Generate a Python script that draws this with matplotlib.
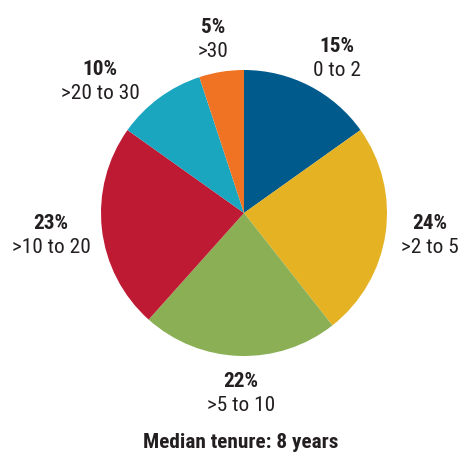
import matplotlib
matplotlib.use("Agg")
import matplotlib.pyplot as plt

# Tenure distribution
shares = [15, 24, 22, 23, 10, 5]
categories = ["0 to 2", ">2 to 5", ">5 to 10", ">10 to 20", ">20 to 30", ">30"]
colors = ["#005a8b", "#e5b224", "#8aaf54", "#be1a34", "#1aa6bf", "#f07323"]
title = "Median tenure: 8 years"

plt.rcParams["font.family"] = ["Roboto Condensed", "Liberation Sans Narrow", "Roboto"]
text_color = "#231f20"
fs = 15.3

W, H = 460, 454
fig = plt.figure(figsize=(W / 100, H / 100), dpi=100)

# Pie placed in pixel space: center (244, 213), radius 143
cx, cy, r = 244, 213, 143
ax = fig.add_axes([(cx - r) / W, (H - cy - r) / H, 2 * r / W, 2 * r / H])
ax.pie(shares, colors=colors, startangle=90, counterclock=False,
       radius=1.0, wedgeprops=dict(linewidth=0))
ax.set_xlim(-1, 1)
ax.set_ylim(-1, 1)
ax.set_aspect("equal")
ax.axis("off")

# Label anchors in figure pixels: (x center, baseline of first line)
label_pos = [(337, 52), (430, 229), (241, 387), (51, 229), (100, 75), (213, 33)]
line_gap = 24

def fig_xy(px, py):
    return px / W, 1 - py / H

for share, cat, (px, py) in zip(shares, categories, label_pos):
    x, y = fig_xy(px, py)
    fig.text(x, y, f"{share}%", ha="center", va="baseline", fontsize=fs,
             fontweight="bold", color=text_color)
    x2, y2 = fig_xy(px, py + line_gap)
    fig.text(x2, y2, cat, ha="center", va="baseline", fontsize=fs,
             color=text_color)

tx, ty = fig_xy(241, 448)
fig.text(tx, ty, title, ha="center", va="baseline", fontsize=fs,
         fontweight="bold", color=text_color)

fig.savefig("out.png", dpi=100, facecolor="white")
